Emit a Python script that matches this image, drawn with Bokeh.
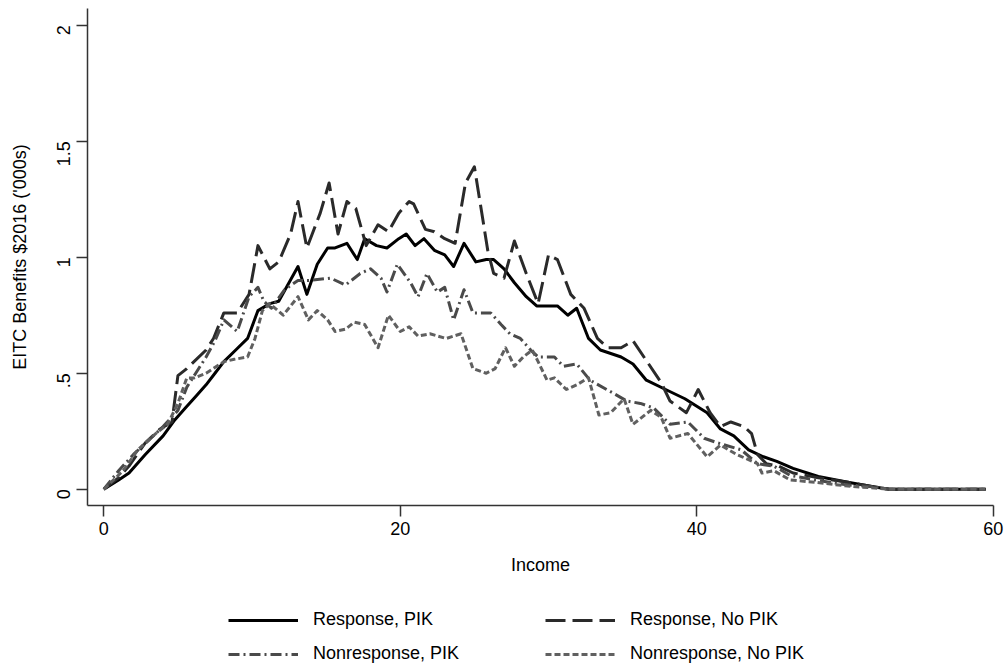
import math
from bokeh.plotting import figure
from bokeh.models import Range1d, Legend, LegendItem, FixedTicker
from bokeh.layouts import column
from bokeh.embed import file_html
from bokeh.resources import INLINE

# ---- data ----
resp_pik_x = [0, 1.0, 1.7, 2.8, 4.0, 4.8, 5.5, 6.2, 6.9, 7.5, 8.1, 8.9, 9.7, 10.4, 11.2, 11.8,
              13.1, 13.7, 14.4, 15.1, 15.6, 16.4, 17.1, 17.6, 18.4, 19.1, 19.9, 20.4, 21.0, 21.6,
              22.3, 23.0, 23.6, 24.3, 25.1, 25.8, 26.3, 27.0, 27.7, 28.5, 29.2, 29.9, 30.6, 31.3,
              31.9, 32.7, 33.5, 34.9, 35.7, 36.6, 37.9, 39.2, 40.7, 41.6, 42.5, 43.5, 44.5, 45.4,
              46.5, 48.2, 50.2, 52.0, 53.0, 55.0, 57.0, 59.5]
resp_pik_y = [0, 0.04, 0.07, 0.15, 0.23, 0.30, 0.35, 0.40, 0.45, 0.50, 0.55, 0.60, 0.65, 0.77, 0.80, 0.81,
              0.96, 0.84, 0.97, 1.04, 1.04, 1.06, 0.99, 1.08, 1.05, 1.04, 1.08, 1.10, 1.05, 1.08,
              1.03, 1.01, 0.96, 1.06, 0.98, 0.99, 0.99, 0.95, 0.89, 0.83, 0.79, 0.79, 0.79, 0.75,
              0.78, 0.65, 0.60, 0.57, 0.54, 0.47, 0.43, 0.39, 0.33, 0.26, 0.23, 0.17, 0.14, 0.12,
              0.09, 0.055, 0.03, 0.01, 0, 0, 0, 0]

resp_nopik_x = [0, 1.0, 1.7, 2.8, 3.8, 4.6, 5.0, 5.6, 6.9, 7.4, 8.1, 8.6, 9.0, 9.8, 10.4, 11.2,
                11.8, 12.6, 13.1, 13.7, 14.6, 15.2, 15.8, 16.4, 17.0, 17.7, 18.5, 19.2, 19.9, 20.6,
                20.9, 21.7, 22.3, 23.0, 23.7, 24.4, 25.0, 25.9, 26.3, 27.0, 27.7, 28.5, 29.3, 30.0,
                30.6, 31.5, 32.4, 33.3, 34.0, 34.9, 35.7, 37.6, 38.2, 39.3, 40.1, 40.9, 41.6, 42.3,
                43.2, 43.7, 44.1, 44.7, 45.5, 46.5, 48.2, 50.2, 52.0, 53.0, 55.0, 57.0, 59.5]
resp_nopik_y = [0, 0.05, 0.10, 0.20, 0.26, 0.29, 0.49, 0.52, 0.60, 0.65, 0.76, 0.76, 0.76, 0.84, 1.05, 0.95,
                0.98, 1.10, 1.24, 1.04, 1.19, 1.32, 1.10, 1.24, 1.21, 1.05, 1.14, 1.11, 1.19, 1.24,
                1.23, 1.12, 1.11, 1.08, 1.06, 1.32, 1.39, 1.03, 0.93, 0.91, 1.07, 0.93, 0.80, 1.01,
                0.99, 0.84, 0.78, 0.65, 0.61, 0.61, 0.64, 0.46, 0.38, 0.33, 0.43, 0.33, 0.27, 0.29,
                0.27, 0.24, 0.15, 0.11, 0.10, 0.07, 0.05, 0.03, 0.01, 0, 0, 0, 0]

nonresp_pik_x = [0, 1.0, 2.0, 3.0, 4.0, 5.0, 5.6, 6.2, 6.9, 7.5, 8.1, 9.0, 9.8, 10.4, 10.8, 11.3,
                 12.2, 13.1, 13.9, 15.3, 16.3, 17.3, 18.0, 18.7, 19.1, 19.8, 20.7, 21.2, 21.8, 22.5,
                 23.0, 23.6, 24.3, 24.9, 26.1, 26.8, 27.4, 28.1, 28.8, 29.3, 30.4, 31.0, 31.9, 32.8,
                 34.2, 35.3, 36.2, 37.1, 38.2, 39.4, 40.5, 41.4, 43.0, 44.1, 45.2, 46.3, 48.0, 50.0,
                 52.0, 53.0, 55.0, 57.0, 59.5]
nonresp_pik_y = [0, 0.08, 0.15, 0.21, 0.27, 0.34, 0.44, 0.50, 0.57, 0.64, 0.73, 0.68, 0.83, 0.87, 0.81, 0.78,
                 0.86, 0.90, 0.90, 0.91, 0.88, 0.93, 0.95, 0.91, 0.85, 0.97, 0.89, 0.83, 0.93, 0.85,
                 0.87, 0.73, 0.86, 0.76, 0.76, 0.71, 0.67, 0.65, 0.60, 0.57, 0.57, 0.53, 0.54, 0.47,
                 0.42, 0.38, 0.37, 0.35, 0.28, 0.29, 0.22, 0.20, 0.17, 0.11, 0.10, 0.06, 0.04, 0.02,
                 0.01, 0, 0, 0, 0]

nonresp_nopik_x = [0, 1.3, 2.3, 3.5, 4.3, 5.0, 5.6, 6.1, 6.9, 8.1, 8.8, 9.7, 10.2, 10.7, 11.2, 12.1,
                   13.1, 13.8, 14.4, 15.1, 15.6, 16.3, 16.9, 17.6, 18.5, 19.2, 20.0, 20.6, 21.2, 22.0,
                   23.1, 24.1, 24.9, 25.8, 26.4, 27.1, 27.7, 28.3, 28.9, 29.3, 29.9, 30.4, 31.2, 31.9,
                   32.7, 33.4, 34.2, 35.1, 35.7, 36.9, 37.6, 38.2, 39.4, 40.7, 41.6, 42.7, 44.1, 44.4,
                   45.2, 46.3, 48.0, 50.0, 52.0, 53.0, 55.0, 57.0, 59.5]
nonresp_nopik_y = [0, 0.08, 0.17, 0.24, 0.28, 0.37, 0.48, 0.48, 0.50, 0.55, 0.56, 0.57, 0.65, 0.77, 0.80, 0.75,
                   0.83, 0.73, 0.77, 0.73, 0.68, 0.69, 0.72, 0.71, 0.61, 0.75, 0.68, 0.70, 0.66, 0.67,
                   0.65, 0.67, 0.52, 0.50, 0.52, 0.61, 0.53, 0.57, 0.60, 0.55, 0.47, 0.48, 0.43, 0.45,
                   0.48, 0.32, 0.33, 0.39, 0.28, 0.34, 0.31, 0.22, 0.24, 0.14, 0.19, 0.15, 0.11, 0.07,
                   0.08, 0.04, 0.03, 0.015, 0.005, 0, 0, 0, 0]

series_labels = ["Response, PIK", "Response, No PIK", "Nonresponse, PIK", "Nonresponse, No PIK"]
x_ticks = [0, 20, 40, 60]
y_ticks = [0, 0.5, 1, 1.5, 2]
y_tick_labels = ["0", ".5", "1", "1.5", "2"]
x_title = "Income"
y_title = "EITC Benefits $2016 ('000s)"

FONT = "Liberation Sans"
FS = "18px"
styles = [
    dict(line_color="#000000"),
    dict(line_color="#2a2a2a", line_dash="20 7"),
    dict(line_color="#4a4a4a", line_dash="11 4 2 4"),
    dict(line_color="#606060", line_dash="6 3"),
]
common = dict(line_width=3, line_join="round")
series = [(resp_pik_x, resp_pik_y), (resp_nopik_x, resp_nopik_y),
          (nonresp_pik_x, nonresp_pik_y), (nonresp_nopik_x, nonresp_nopik_y)]

# ---- main plot ----
p = figure(width=1006, height=590, output_backend="svg", toolbar_location=None,
           x_range=Range1d(-1.1, 60.02), y_range=Range1d(-0.070, 2.072),
           min_border_left=87, min_border_right=13, min_border_top=8, min_border_bottom=85)
p.outline_line_color = None
p.xgrid.visible = False
p.ygrid.visible = False
p.background_fill_color = "white"
p.border_fill_color = "white"

for (xs, ys), st in zip(series, styles):
    p.line(xs, ys, **common, **st)

for ax in (p.xaxis[0], p.yaxis[0]):
    ax.axis_line_color = "#333333"
    ax.axis_line_width = 1.5
    ax.major_tick_line_color = "#333333"
    ax.major_tick_line_width = 1.5
    ax.major_tick_out = 11
    ax.major_tick_in = 0
    ax.minor_tick_line_color = None
    ax.major_label_text_font = FONT
    ax.major_label_text_font_size = FS
    ax.major_label_text_color = "#000000"
    ax.axis_label_text_font = FONT
    ax.axis_label_text_font_size = FS
    ax.axis_label_text_font_style = "normal"
    ax.axis_label_text_color = "#000000"

p.xaxis.ticker = FixedTicker(ticks=x_ticks)
p.xaxis.axis_label = x_title
p.xaxis.major_label_standoff = 5
p.xaxis.axis_label_standoff = 17

p.yaxis.ticker = FixedTicker(ticks=y_ticks)
p.yaxis.major_label_overrides = {t: l for t, l in zip(y_ticks, y_tick_labels)}
p.yaxis.major_label_orientation = math.pi / 2
p.yaxis.axis_label = y_title
p.yaxis.major_label_standoff = 13
p.yaxis.axis_label_standoff = 18

# ---- legend strip below (key lines kept outside its visible range) ----
lg = figure(width=1006, height=81, output_backend="svg", toolbar_location=None,
            x_range=Range1d(-20, -19), y_range=Range1d(-20, -19),
            min_border_left=0, min_border_right=0, min_border_top=0, min_border_bottom=0)
lg.axis.visible = False
lg.xgrid.visible = False
lg.ygrid.visible = False
lg.outline_line_color = None
lg.background_fill_color = "white"
lg.border_fill_color = "white"
key_renderers = [lg.line(xs, ys, **common, **st) for (xs, ys), st in zip(series, styles)]

legend = Legend(items=[LegendItem(label=l, renderers=[r]) for l, r in zip(series_labels, key_renderers)],
                ncols=2, orientation="horizontal", location=(141, 7))
legend.label_text_font = FONT
legend.label_text_font_size = FS
legend.label_text_color = "#000000"
legend.glyph_width = 70
legend.glyph_height = 20
legend.label_height = 20
legend.label_width = 219
legend.label_standoff = 15
legend.spacing = 13
legend.padding = 5
legend.margin = 0
legend.border_line_color = None
legend.background_fill_alpha = 0
lg.add_layout(legend)

layout = column(p, lg, spacing=0)
open("out.html", "w").write(file_html(layout, INLINE))
